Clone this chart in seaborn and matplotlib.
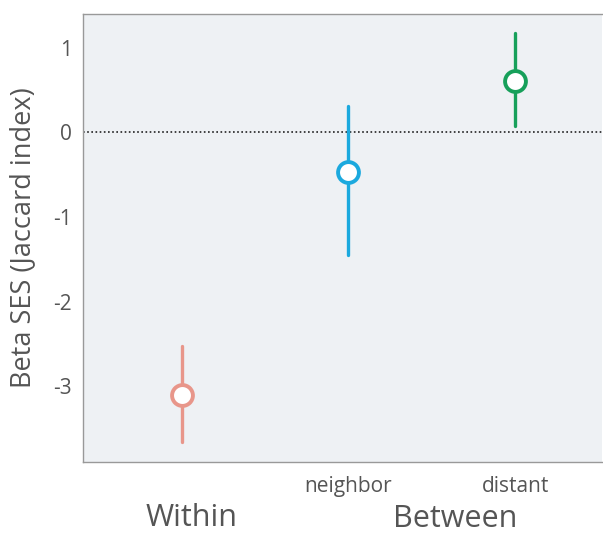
import numpy as np
import pandas as pd
import matplotlib
matplotlib.use("Agg")
import matplotlib.pyplot as plt
import seaborn as sns

# values
groups = ["within", "neighbor", "distant"]
tick_labels = ["", "neighbor", "distant"]
means = [-3.11, -0.47, 0.61]
lower = [-3.66, -1.45, 0.07]
upper = [-2.52, 0.31, 1.17]
colors = ["#E8968A", "#1BA9DE", "#17A05A"]

# long table: lower / centre / upper per group, median + full range gives the bars
rows = []
for g, lo, m, hi in zip(groups, lower, means, upper):
    for v in (lo, m, hi):
        rows.append({"group": g, "ses": v})
df = pd.DataFrame(rows)

sns.set_style("white")
plt.rcParams["font.family"] = ["Open Sans", "DejaVu Sans"]

fig = plt.figure(figsize=(6.03, 5.35), dpi=100)
ax = fig.add_axes([0.138, 0.136, 0.86, 0.838])
ax.set_facecolor("#EEF1F4")

sns.pointplot(data=df, x="group", y="ses", hue="group", order=groups,
              palette=colors, estimator="median", errorbar=("pi", 100),
              linestyle="none", markers="o", markersize=15,
              markeredgewidth=2.8, markerfacecolor="white",
              err_kws={"linewidth": 2.4}, legend=False, ax=ax)

# make circles hollow, drawn above the error lines
for line in ax.lines:
    if line.get_marker() == "o":
        line.set_markerfacecolor("white")
        line.set_zorder(5)

ax.axhline(0, color="#222222", linestyle=(0, (1, 1.5)), linewidth=1.2, zorder=1)

ax.set_xlim(-0.59, 2.52)
ax.set_ylim(-3.9, 1.4)
ax.set_yticks([1, 0, -1, -2, -3])
ax.set_yticklabels(["1", "0", "-1", "-2", "-3"])
ax.set_xticks([0, 1, 2])
ax.set_xticklabels(tick_labels)
ax.tick_params(axis="both", colors="#888888", labelcolor="#555555",
               length=4, width=1, labelsize=15, direction="out")
ax.tick_params(axis="y", pad=4)
ax.tick_params(axis="x", pad=6)
ax.set_xlabel("")
ax.set_ylabel("Beta SES (Jaccard index)", fontsize=19.5, color="#555555", labelpad=12)

for s in ax.spines.values():
    s.set_color("#999999")
    s.set_linewidth(1)
ax.spines["right"].set_visible(False)

fig.text(192 / 603, 1 - 518 / 535, "Within", fontsize=22, color="#555555",
         ha="center", va="center")
fig.text(455 / 603, 1 - 519 / 535, "Between", fontsize=22, color="#555555",
         ha="center", va="center")

fig.savefig("out.png", dpi=100)
